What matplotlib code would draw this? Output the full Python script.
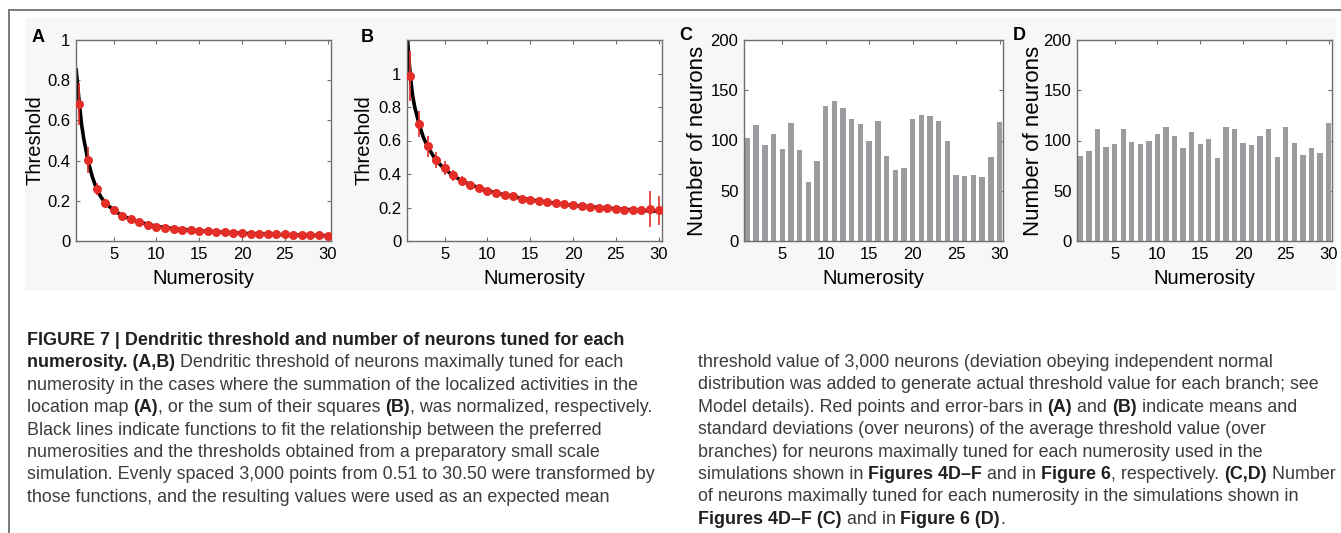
import numpy as np
import matplotlib
matplotlib.use("Agg")
import matplotlib.pyplot as plt
from matplotlib.patches import Rectangle
from matplotlib.lines import Line2D

plt.rcParams['font.family'] = ['Liberation Sans', 'DejaVu Sans']

# ---------------- data ----------------
numerosity = list(range(1, 31))

# Panel A: means and std of threshold
a_mean = [0.681, 0.404, 0.259, 0.189, 0.153, 0.126, 0.110, 0.095, 0.081, 0.071,
          0.066, 0.061, 0.056, 0.053, 0.050, 0.048, 0.045, 0.043, 0.040, 0.038,
          0.037, 0.036, 0.035, 0.034, 0.033, 0.032, 0.031, 0.030, 0.028, 0.027]
a_std = [0.105, 0.064, 0.030, 0.020, 0.010, 0.008, 0.006, 0.005, 0.004, 0.004,
         0.003, 0.003, 0.003, 0.003, 0.003, 0.002, 0.002, 0.002, 0.002, 0.002,
         0.002, 0.002, 0.002, 0.002, 0.002, 0.002, 0.002, 0.002, 0.002, 0.002]
a_fit_x = [0.6, 0.8, 1.0, 1.25, 1.5, 2.0, 2.5, 3.0, 3.5, 4.0, 5.0, 6.0, 7.0, 8.0,
           10.0, 12.0, 15.0, 20.0, 25.0, 30.4]
a_fit_y = [0.86, 0.77, 0.68, 0.58, 0.51, 0.40, 0.32, 0.26, 0.22, 0.19, 0.153,
           0.126, 0.108, 0.094, 0.073, 0.061, 0.050, 0.038, 0.031, 0.026]

# Panel B
b_mean = [0.984, 0.697, 0.566, 0.482, 0.436, 0.392, 0.361, 0.337, 0.317, 0.301,
          0.287, 0.275, 0.269, 0.253, 0.247, 0.237, 0.231, 0.225, 0.219, 0.213,
          0.209, 0.205, 0.199, 0.195, 0.189, 0.187, 0.185, 0.183, 0.191, 0.183]
b_std = [0.150, 0.078, 0.062, 0.048, 0.039, 0.031, 0.028, 0.022, 0.021, 0.018,
         0.015, 0.015, 0.013, 0.010, 0.010, 0.008, 0.008, 0.008, 0.008, 0.008,
         0.008, 0.008, 0.008, 0.008, 0.008, 0.008, 0.008, 0.008, 0.105, 0.087]
b_fit_x = [0.6, 0.8, 1.0, 1.25, 1.5, 2.0, 2.5, 3.0, 4.0, 5.0, 6.0, 7.0, 8.0,
           10.0, 12.0, 15.0, 20.0, 25.0, 30.4]
b_fit_y = [1.26, 1.10, 0.98, 0.87, 0.80, 0.70, 0.62, 0.565, 0.48, 0.43, 0.39,
           0.36, 0.336, 0.30, 0.275, 0.245, 0.212, 0.192, 0.176]

# Panel C and D: number of neurons
c_counts = [102, 115, 96, 106, 92, 117, 91, 59, 80, 134, 139, 132, 121, 116, 100,
            119, 85, 71, 73, 121, 125, 124, 119, 100, 66, 65, 66, 64, 84, 118]
d_counts = [85, 90, 111, 94, 97, 111, 99, 97, 100, 106, 113, 104, 93, 108, 97,
            101, 83, 113, 111, 98, 96, 104, 111, 84, 113, 98, 86, 93, 88, 117]

x_ticks = [5, 10, 15, 20, 25, 30]
thr_ticks = [0, 0.2, 0.4, 0.6, 0.8, 1]
thr_ticklabels = ["0", "0.2", "0.4", "0.6", "0.8", "1"]
cnt_ticks = [0, 50, 100, 150, 200]
panel_letters = ["A", "B", "C", "D"]

# caption: list of lines, each a list of (text, bold)
caption_left = [
    [("FIGURE 7 | Dendritic threshold and number of neurons tuned for each", True)],
    [("numerosity. (A,B)", True), (" Dendritic threshold of neurons maximally tuned for each", False)],
    [("numerosity in the cases where the summation of the localized activities in the", False)],
    [("location map ", False), ("(A)", True), (", or the sum of their squares ", False),
     ("(B)", True), (", was normalized, respectively.", False)],
    [("Black lines indicate functions to fit the relationship between the preferred", False)],
    [("numerosities and the thresholds obtained from a preparatory small scale", False)],
    [("simulation. Evenly spaced 3,000 points from 0.51 to 30.50 were transformed by", False)],
    [("those functions, and the resulting values were used as an expected mean", False)],
]
caption_right = [
    [("threshold value of 3,000 neurons (deviation obeying independent normal", False)],
    [("distribution was added to generate actual threshold value for each branch; see", False)],
    [("Model details). Red points and error-bars in ", False), ("(A)", True), (" and ", False),
     ("(B)", True), (" indicate means and", False)],
    [("standard deviations (over neurons) of the average threshold value (over", False)],
    [("branches) for neurons maximally tuned for each numerosity used in the", False)],
    [("simulations shown in ", False), ("Figures 4D\u2013F", True), (" and in ", False),
     ("Figure 6", True), (", respectively. ", False), ("(C,D)", True), (" Number", False)],
    [("of neurons maximally tuned for each numerosity in the simulations shown in", False)],
    [("Figures 4D\u2013F (C)", True), (" and in ", False), ("Figure 6 (D)", True), (".", False)],
]

# ---------------- figure ----------------
W, H = 1341, 533
fig = plt.figure(figsize=(W / 100, H / 100), dpi=100)
fig.patch.set_facecolor("white")

def px_rect(l, r, t, b):
    return [l / W, 1 - b / H, (r - l) / W, (b - t) / H]

# light background of figure area
bg = Rectangle((25 / W, 1 - 291 / H), (1336 - 25) / W, (291 - 18) / H,
               transform=fig.transFigure, facecolor="#f7f7f7",
               edgecolor="none", zorder=-10)
fig.patches.append(bg)
# frame lines
fig.lines.append(Line2D([9 / W, 1.0], [1 - 10 / H, 1 - 10 / H], transform=fig.transFigure,
                        color="#7a7a7a", lw=1.4, zorder=-5))
fig.lines.append(Line2D([9 / W, 9 / W], [1 - 10 / H, 0], transform=fig.transFigure,
                        color="#7a7a7a", lw=1.4, zorder=-5))

rects = [px_rect(76, 331, 40, 241), px_rect(407, 662, 40, 241),
         px_rect(744, 1003, 40, 241), px_rect(1077, 1332, 40, 241)]
axes = [fig.add_axes(r) for r in rects]
for ax in axes:
    ax.set_zorder(5)

red = "#e42d27"
spine_col = "#6e6e6e"
tick_fs = 12
lab_fs = 14.5

def style(ax):
    ax.set_facecolor("white")
    for s in ax.spines.values():
        s.set_color(spine_col)
        s.set_linewidth(1.0)
    ax.tick_params(direction="in", length=3, width=0.8, color=spine_col,
                   top=True, right=True, labelsize=tick_fs, pad=4)
    ax.set_xticks(x_ticks)
    ax.set_xlim(0.6, 30.4)
    ax.set_xlabel("Numerosity", fontsize=lab_fs)
    ax.xaxis.set_label_coords(0.5, -0.14)

# A
ax = axes[0]
style(ax)
ax.plot(a_fit_x, a_fit_y, color="black", lw=2.6, zorder=2, solid_capstyle="butt")
ax.errorbar(numerosity, a_mean, yerr=a_std, fmt="o", color=red, ms=6.5, mew=0,
            ecolor=red, elinewidth=1.2, capsize=3, capthick=1.2, zorder=3)
ax.set_ylim(0, 1)
ax.set_yticks(thr_ticks)
ax.set_yticklabels(thr_ticklabels)
ax.set_ylabel("Threshold", fontsize=lab_fs)
ax.yaxis.set_label_coords(-0.125, 0.5)

# B
ax = axes[1]
style(ax)
ax.plot(b_fit_x, b_fit_y, color="black", lw=2.6, zorder=2)
ax.errorbar(numerosity, b_mean, yerr=b_std, fmt="o", color=red, ms=6.5, mew=0,
            ecolor=red, elinewidth=1.2, capsize=3, capthick=1.2, zorder=3)
ax.set_ylim(0, 1.2)
ax.set_yticks(thr_ticks)
ax.set_yticklabels(thr_ticklabels)
ax.set_ylabel("Threshold", fontsize=lab_fs)
ax.yaxis.set_label_coords(-0.13, 0.5)

# C, D
for ax, counts, lx in [(axes[2], c_counts, -0.139), (axes[3], d_counts, -0.129)]:
    style(ax)
    ax.bar(numerosity, counts, width=0.62, color="#9b9c9f", edgecolor="none", zorder=2)
    ax.set_ylim(0, 200)
    ax.set_yticks(cnt_ticks)
    ax.set_ylabel("Number of neurons", fontsize=16)
    ax.yaxis.set_label_coords(lx, 0.5)

# panel letters
for (x, y), letter in zip([(38, 37), (367, 37), (686, 35), (1019, 36)], panel_letters):
    fig.text(x / W, 1 - y / H, letter, fontsize=13, fontweight="bold",
             ha="center", va="center", zorder=10)

# ---------------- caption ----------------
fig.canvas.draw()
renderer = fig.canvas.get_renderer()
cap_font = ['Liberation Sans Narrow', 'Liberation Sans', 'DejaVu Sans']
cap_fs = 12.9

def measure(s, bold):
    t1 = fig.text(0, 0, s + "|", fontsize=cap_fs, family=cap_font,
                  fontweight="bold" if bold else "normal")
    t2 = fig.text(0, 0, "|", fontsize=cap_fs, family=cap_font,
                  fontweight="bold" if bold else "normal")
    w = t1.get_window_extent(renderer).width - t2.get_window_extent(renderer).width
    t1.remove(); t2.remove()
    return w

def draw_column(lines, x0, y0, dy):
    for i, segs in enumerate(lines):
        x = x0
        y = y0 + i * dy
        for s, bold in segs:
            fig.text(x / W, 1 - y / H, s, fontsize=cap_fs, family=cap_font,
                     fontweight="bold" if bold else "normal",
                     color="#231f20" if bold else "#3c3c3c",
                     ha="left", va="baseline")
            x += measure(s, bold)

draw_column(caption_left, 27, 345, 22.4)
draw_column(caption_right, 698, 367, 22.4)

fig.savefig("out.png", dpi=100)
